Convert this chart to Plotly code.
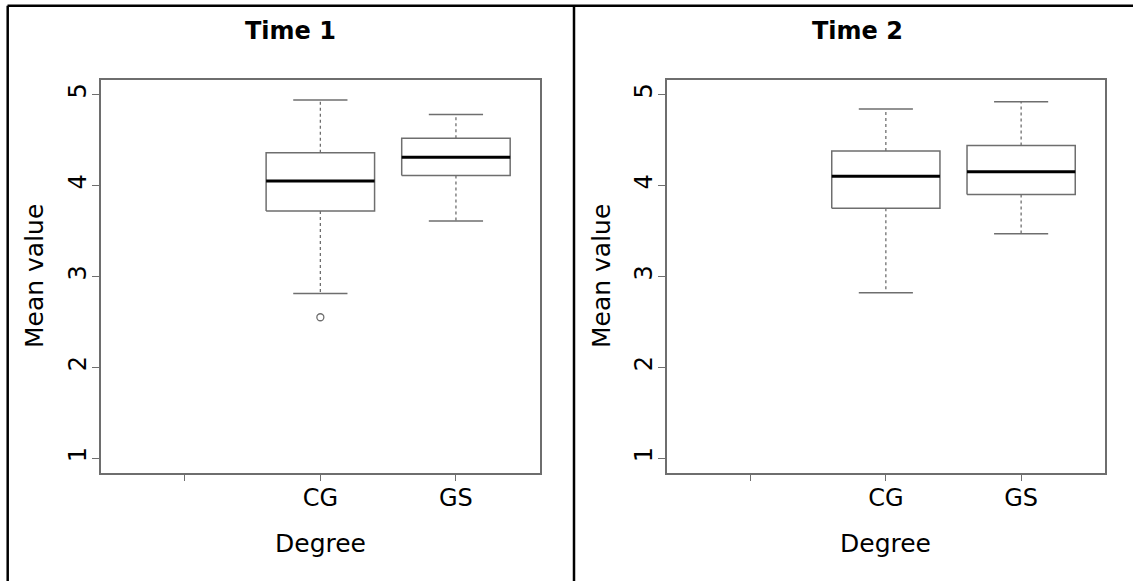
import plotly.graph_objects as go

# ---- data ----
categories = ["", "CG", "GS"]
panel_titles = ["Time 1", "Time 2"]

t1_lower = [2.81, 3.61]
t1_q1 = [3.72, 4.11]
t1_median = [4.05, 4.31]
t1_q3 = [4.36, 4.52]
t1_upper = [4.94, 4.78]
t1_outliers = [[2.55], []]

t2_lower = [2.82, 3.47]
t2_q1 = [3.75, 3.90]
t2_median = [4.10, 4.15]
t2_q3 = [4.38, 4.44]
t2_upper = [4.84, 4.92]
t2_outliers = [[], []]

box_groups = ["CG", "GS"]
y_ticks = [1, 2, 3, 4, 5]

W, H = 1133, 581
FONT = "DejaVu Sans"
GREY = "#6e6e6e"

fig = go.Figure()

panels = [
    (t1_lower, t1_q1, t1_median, t1_q3, t1_upper, t1_outliers),
    (t2_lower, t2_q1, t2_median, t2_q3, t2_upper, t2_outliers),
]

x_domains = [[100.7 / W, 540.0 / W], [666.7 / W, 1105.0 / W]]
y_domain = [1 - 472.7 / H, 1 - 80.0 / H]

hw = 0.4   # box half width
cw = 0.2   # cap half width

for p, (lo, q1, med, q3, up, outs) in enumerate(panels):
    xa = "x" if p == 0 else "x2"
    ya = "y" if p == 0 else "y2"
    for i, g in enumerate(box_groups):
        xc = categories.index(g) + 1
        # whiskers (dashed)
        fig.add_trace(go.Scatter(x=[xc, xc, None, xc, xc], y=[q3[i], up[i], None, q1[i], lo[i]],
                                 mode="lines", line=dict(color=GREY, width=1.3, dash="3px,3px"),
                                 xaxis=xa, yaxis=ya, showlegend=False, hoverinfo="skip"))
        # caps
        fig.add_trace(go.Scatter(x=[xc - cw, xc + cw, None, xc - cw, xc + cw],
                                 y=[up[i], up[i], None, lo[i], lo[i]],
                                 mode="lines", line=dict(color=GREY, width=1.5),
                                 xaxis=xa, yaxis=ya, showlegend=False, hoverinfo="skip"))
        # box
        fig.add_trace(go.Scatter(x=[xc - hw, xc + hw, xc + hw, xc - hw, xc - hw],
                                 y=[q1[i], q1[i], q3[i], q3[i], q1[i]],
                                 mode="lines", line=dict(color=GREY, width=1.5),
                                 xaxis=xa, yaxis=ya, showlegend=False, hoverinfo="skip"))
        # median
        fig.add_trace(go.Scatter(x=[xc - hw, xc + hw], y=[med[i], med[i]],
                                 mode="lines", line=dict(color="black", width=3),
                                 xaxis=xa, yaxis=ya, showlegend=False, hoverinfo="skip"))
        # outliers
        if outs[i]:
            fig.add_trace(go.Scatter(x=[xc] * len(outs[i]), y=outs[i], mode="markers",
                                     marker=dict(symbol="circle-open", size=7,
                                                 color=GREY, line=dict(width=1.3)),
                                     xaxis=xa, yaxis=ya, showlegend=False, hoverinfo="skip"))

axis_common = dict(showgrid=False, zeroline=False, showline=True, mirror=True,
                   linecolor=GREY, linewidth=1.5, ticks="outside", ticklen=7,
                   tickcolor=GREY, tickwidth=1.3, ticklabelstandoff=-4,
                   tickfont=dict(family=FONT, size=24, color="black"))

for p in range(2):
    sx = "" if p == 0 else "2"
    fig.update_layout(**{
        "xaxis" + sx: dict(axis_common, domain=x_domains[p], range=[0.38, 3.62],
                           tickvals=[1, 2, 3], ticktext=categories,
                           anchor="y" + sx),
        "yaxis" + sx: dict(axis_common, domain=y_domain, range=[0.84, 5.16],
                           tickvals=y_ticks, ticktext=[str(v) for v in y_ticks],
                           tickangle=-90, anchor="x" + sx),
    })

annotations = []
cell_left = [7.0, 574.0]
cell_w = 567.0
for p in range(2):
    cx = (cell_left[p] + cell_w / 2) / W
    annotations.append(dict(text="<b>" + panel_titles[p] + "</b>", x=cx, y=1 - 31 / H,
                            xref="paper", yref="paper", showarrow=False,
                            xanchor="center", yanchor="middle",
                            font=dict(family=FONT, size=24, color="black")))
    pcx = (x_domains[p][0] + x_domains[p][1]) / 2
    annotations.append(dict(text="Degree", x=pcx, y=1 - 543 / H,
                            xref="paper", yref="paper", showarrow=False,
                            xanchor="center", yanchor="middle",
                            font=dict(family=FONT, size=25, color="black")))
    annotations.append(dict(text="Mean value", x=(cell_left[p] + 27) / W, y=1 - 276 / H,
                            xref="paper", yref="paper", showarrow=False, textangle=-90,
                            xanchor="center", yanchor="middle",
                            font=dict(family=FONT, size=25, color="black")))

shapes = [
    dict(type="line", xref="paper", yref="paper", x0=7.5 / W, x1=1.0, y0=1 - 5.7 / H, y1=1 - 5.7 / H,
         line=dict(color="black", width=2.5)),
    dict(type="line", xref="paper", yref="paper", x0=7.7 / W, x1=7.7 / W, y0=0, y1=1 - 5.7 / H,
         line=dict(color="black", width=2.5)),
    dict(type="line", xref="paper", yref="paper", x0=574 / W, x1=574 / W, y0=0, y1=1 - 5.7 / H,
         line=dict(color="black", width=2.5)),
]

fig.update_layout(width=W, height=H, margin=dict(l=0, r=0, t=0, b=0),
                  paper_bgcolor="white", plot_bgcolor="white",
                  annotations=annotations, shapes=shapes, showlegend=False)

fig.write_html("out.html", config={"displayModeBar": False},
               post_script="document.body.style.margin='0px';")
